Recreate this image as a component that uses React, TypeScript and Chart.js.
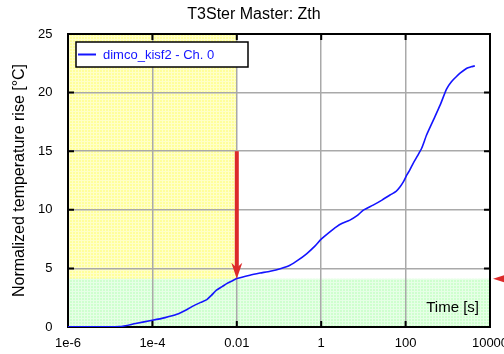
import React, { useEffect, useRef } from 'react';
import { Chart, registerables } from 'chart.js';

Chart.register(...registerables);

// Measured thermal impedance curve: time [s] vs. temperature rise [°C]
const timeSeconds = [
  1e-6, 3.16e-6, 1.7e-5, 4e-5, 1e-4, 2e-4, 3.8e-4, 6.3e-4, 9.3e-4, 1.4e-3,
  1.95e-3, 2.5e-3, 3.3e-3, 4.5e-3, 5.75e-3, 7.9e-3, 0.01, 0.0204, 0.0355, 0.0617,
  0.112, 0.182, 0.282, 0.457, 0.708, 1, 1.58, 2.29, 3.16, 4.79,
  7.08, 10, 17, 28.2, 42.7, 60.3, 74.1, 89.1, 107, 126,
  151, 191, 240, 316, 457, 661, 933, 1230, 1585, 1950,
  2818, 3548, 4365,
];
const zthValues = [
  0.02, 0.02, 0.03, 0.3, 0.57, 0.8, 1.08, 1.45, 1.8, 2.1,
  2.34, 2.7, 3.14, 3.45, 3.7, 3.95, 4.13, 4.42, 4.6, 4.76,
  5.0, 5.27, 5.7, 6.27, 6.9, 7.5, 8.1, 8.55, 8.85, 9.12,
  9.5, 9.97, 10.4, 10.85, 11.26, 11.6, 11.97, 12.4, 12.97, 13.4,
  13.97, 14.6, 15.25, 16.4, 17.67, 18.95, 20.3, 20.94, 21.35, 21.66,
  22.08, 22.2, 22.28,
];

const xTickValues = [1e-6, 1e-4, 1e-2, 1, 100, 10000];
const xTickLabels = ['1e-6', '1e-4', '0.01', '1', '100', '10000'];
const yTickValues = [0, 5, 10, 15, 20, 25];

// Highlighted regions and the level marker
const earlyRange = [1e-6, 0.01];
const levelRange = [0, 4.12];
const markerTime = 0.01;
const markerFrom = 15;
const markerLevel = 4.12;

const FONT = "'Liberation Sans', Arial, Helvetica, sans-serif";
const RED = '#dc2a2a';
const BLUE = '#1414ff';

function makePattern(base: string, light: string): HTMLCanvasElement {
  const c = document.createElement('canvas');
  c.width = 3;
  c.height = 3;
  const g = c.getContext('2d')!;
  g.fillStyle = base;
  g.fillRect(0, 0, 3, 3);
  g.fillStyle = light;
  g.fillRect(0, 0, 3, 1);
  g.fillRect(0, 0, 1, 3);
  return c;
}

const regionsPlugin = {
  id: 'regions',
  beforeDraw(chart: any) {
    const { ctx, scales } = chart;
    const x = scales.x;
    const y = scales.y;
    const yellow = ctx.createPattern(makePattern('#ffff9a', '#ffffc8'), 'repeat');
    const green = ctx.createPattern(makePattern('#ceffce', '#e6ffe6'), 'repeat');
    ctx.save();
    const x0 = x.getPixelForValue(earlyRange[0]);
    const x1 = x.getPixelForValue(earlyRange[1]);
    ctx.fillStyle = yellow;
    ctx.fillRect(x0, y.getPixelForValue(25), x1 - x0, y.getPixelForValue(0) - y.getPixelForValue(25));
    const gx0 = x.getPixelForValue(1e-6);
    const gx1 = x.getPixelForValue(1e4);
    const gy0 = y.getPixelForValue(levelRange[1]);
    const gy1 = y.getPixelForValue(levelRange[0]);
    ctx.fillStyle = green;
    ctx.fillRect(gx0, gy0, gx1 - gx0, gy1 - gy0);
    ctx.restore();
  },
};

const framePlugin = {
  id: 'frame',
  beforeDatasetsDraw(chart: any) {
    const { ctx, chartArea, scales } = chart;
    const { left, right, top, bottom } = chartArea;
    const x = scales.x;
    const y = scales.y;
    ctx.save();

    // inner tick marks on all four sides
    ctx.strokeStyle = '#000';
    ctx.lineWidth = 2;
    const tl = 6;
    ctx.beginPath();
    xTickValues.forEach((v) => {
      const px = x.getPixelForValue(v);
      ctx.moveTo(px, bottom);
      ctx.lineTo(px, bottom - tl);
      ctx.moveTo(px, top);
      ctx.lineTo(px, top + tl);
    });
    yTickValues.forEach((v) => {
      const py = y.getPixelForValue(v);
      ctx.moveTo(left, py);
      ctx.lineTo(left + tl, py);
      ctx.moveTo(right, py);
      ctx.lineTo(right - tl, py);
    });
    ctx.stroke();

    // plot frame
    ctx.strokeRect(left, top, right - left, bottom - top);
    ctx.restore();
  },
  afterDatasetsDraw(chart: any) {
    const { ctx, chartArea, scales } = chart;
    const { right, bottom } = chartArea;
    const x = scales.x;
    const y = scales.y;
    ctx.save();

    // vertical marker arrow down to the curve
    const ax = x.getPixelForValue(markerTime);
    const aTop = y.getPixelForValue(markerFrom);
    const aTip = y.getPixelForValue(markerLevel);
    const headLen = 16;
    const notch = 11;
    const halfW = 5.5;
    ctx.strokeStyle = RED;
    ctx.lineWidth = 4;
    ctx.beginPath();
    ctx.moveTo(ax, aTop);
    ctx.lineTo(ax, aTip - notch + 1);
    ctx.stroke();
    ctx.fillStyle = RED;
    ctx.beginPath();
    ctx.moveTo(ax, aTip);
    ctx.lineTo(ax - halfW, aTip - headLen);
    ctx.lineTo(ax, aTip - notch);
    ctx.lineTo(ax + halfW, aTip - headLen);
    ctx.closePath();
    ctx.fill();

    // level marker on the right edge
    const ry = y.getPixelForValue(markerLevel);
    ctx.beginPath();
    ctx.moveTo(right + 3, ry);
    ctx.lineTo(right + 15, ry - 3.8);
    ctx.lineTo(right + 15, ry + 3.8);
    ctx.closePath();
    ctx.fill();

    // legend box
    const lx = 76;
    const ly = 42;
    const lw = 172;
    const lh = 25;
    ctx.fillStyle = '#fff';
    ctx.fillRect(lx, ly, lw, lh);
    ctx.strokeStyle = '#000';
    ctx.lineWidth = 1.5;
    ctx.strokeRect(lx, ly, lw, lh);
    ctx.strokeStyle = BLUE;
    ctx.lineWidth = 2;
    ctx.beginPath();
    ctx.moveTo(lx + 2, ly + 12.5);
    ctx.lineTo(lx + 20, ly + 12.5);
    ctx.stroke();
    ctx.fillStyle = BLUE;
    ctx.font = `13px ${FONT}`;
    ctx.textAlign = 'left';
    ctx.textBaseline = 'middle';
    ctx.fillText(chart.data.datasets[0].label, lx + 27, ly + 13);

    // x axis caption inside the plot
    ctx.fillStyle = '#000';
    ctx.font = `15px ${FONT}`;
    ctx.textAlign = 'right';
    ctx.fillText('Time [s]', right - 11, bottom - 19);

    ctx.restore();
  },
};

export default function App() {
  const canvasRef = useRef<HTMLCanvasElement | null>(null);

  useEffect(() => {
    const canvas = canvasRef.current;
    if (!canvas) return;
    Chart.defaults.font.family = FONT;
    Chart.defaults.color = '#000';

    const chart = new Chart(canvas, {
      type: 'line',
      data: {
        datasets: [
          {
            label: 'dimco_kisf2 - Ch. 0',
            data: timeSeconds.map((t, i) => ({ x: t, y: zthValues[i] })),
            borderColor: BLUE,
            borderWidth: 1.6,
            pointRadius: 0,
            tension: 0.2,
            fill: false,
          },
        ],
      },
      options: {
        responsive: false,
        animation: false,
        layout: { padding: { left: 18, right: 14, top: 0, bottom: 0 } },
        plugins: {
          legend: { display: false },
          tooltip: { enabled: false },
          title: {
            display: true,
            text: 'T3Ster Master: Zth',
            color: '#000',
            font: { size: 16, weight: 'normal', family: FONT },
            padding: { top: 4.6, bottom: 10.2 },
          },
        },
        scales: {
          x: {
            type: 'logarithmic',
            min: 1e-6,
            max: 1e4,
            afterBuildTicks: (scale: any) => {
              scale.ticks = xTickValues.map((value) => ({ value }));
            },
            afterFit: (scale: any) => {
              scale.height = 27;
              scale.paddingLeft = 0;
              scale.paddingRight = 0;
            },
            ticks: {
              autoSkip: false,
              maxRotation: 0,
              padding: 8.5,
              color: '#000',
              font: { size: 13 },
              callback: (value: any) => {
                const i = xTickValues.findIndex((v) => Math.abs(Math.log10(v) - Math.log10(Number(value))) < 1e-6);
                return i >= 0 ? xTickLabels[i] : '';
              },
            },
            grid: { color: '#a9a9a9', lineWidth: 1.5, drawTicks: false },
            border: { display: false },
          },
          y: {
            type: 'linear',
            min: 0,
            max: 25,
            afterBuildTicks: (scale: any) => {
              scale.ticks = yTickValues.map((value) => ({ value }));
            },
            afterFit: (scale: any) => {
              scale.width = 50;
              scale.paddingTop = 0;
              scale.paddingBottom = 0;
            },
            ticks: {
              padding: 15.5,
              color: '#000',
              font: { size: 13 },
            },
            grid: { color: '#a9a9a9', lineWidth: 1.5, drawTicks: false },
            border: { display: false },
            title: {
              display: true,
              text: 'Normalized temperature rise [°C]',
              color: '#000',
              font: { size: 16, family: FONT },
              padding: { top: -8.4, bottom: 0 },
            },
          },
        },
      },
      plugins: [regionsPlugin, framePlugin],
    });

    return () => chart.destroy();
  }, []);

  return (
    <div style={{ position: 'fixed', left: 0, top: 0, width: 504, height: 354, background: '#fff' }}>
      <canvas ref={canvasRef} width={504} height={354} style={{ display: 'block' }} />
    </div>
  );
}
